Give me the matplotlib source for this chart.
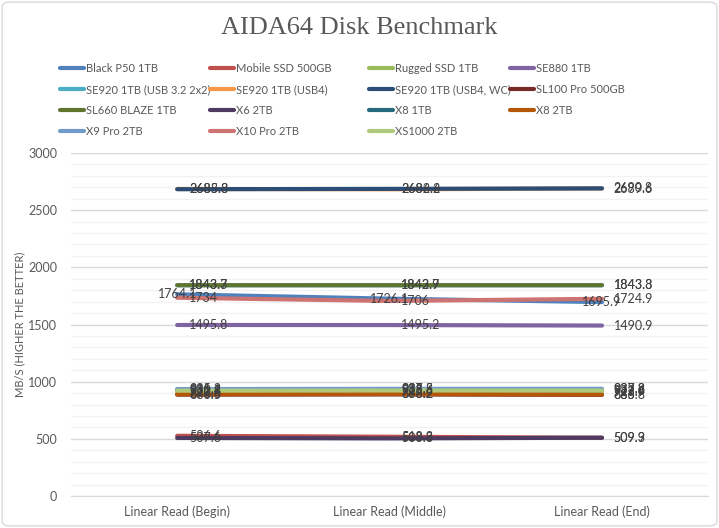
import matplotlib.pyplot as plt
from matplotlib import font_manager
from matplotlib.patches import FancyBboxPatch
from matplotlib.ticker import MultipleLocator

categories = ["Linear Read (Begin)", "Linear Read (Middle)", "Linear Read (End)"]

series_names = [
    "Black P50 1TB", "Mobile SSD 500GB", "Rugged SSD 1TB", "SE880 1TB",
    "SE920 1TB (USB 3.2 2x2)", "SE920 1TB (USB4)", "SE920 1TB (USB4, WC)", "SL100 Pro 500GB",
    "SL660 BLAZE 1TB", "X6 2TB", "X8 1TB", "X8 2TB",
    "X9 Pro 2TB", "X10 Pro 2TB", "XS1000 2TB",
]

black_p50 = [1764.1, 1726.1, 1695.9]
mobile_ssd = [526.6, 518.3, 509.3]
rugged_ssd = [912.8, 915.6, 913.9]
se880 = [1495.8, 1495.2, 1490.9]
se920_2x2 = [1843.3, 1842.7, 1843.3]
se920_usb4 = [2685.8, 2682.6, 2689.6]
se920_wc = [2683.3, 2686.2, 2690.8]
sl100_pro = [886.5, 888.2, 885.0]
sl660 = [1843.7, 1843.9, 1843.8]
x6 = [507.6, 503.8, 509.9]
x8_1tb = [930.1, 935.3, 933.2]
x8_2tb = [890.6, 893.2, 886.8]
x9_pro = [935.2, 937.5, 937.8]
x10_pro = [1734.0, 1706.0, 1724.9]
xs1000 = [921.4, 923.0, 922.6]

values = [
    black_p50, mobile_ssd, rugged_ssd, se880,
    se920_2x2, se920_usb4, se920_wc, sl100_pro,
    sl660, x6, x8_1tb, x8_2tb,
    x9_pro, x10_pro, xs1000,
]

colors = [
    "#4F81BD", "#C0504D", "#9BBB59", "#8064A2",
    "#4BACC6", "#F79646", "#2C4D75", "#772C2A",
    "#5F7530", "#4D3B62", "#276A7C", "#B65708",
    "#729ACA", "#CD7371", "#AFC97A",
]

# labels of this series sit centred on the point, the rest to the right
centered_labels = {"Black P50 1TB"}

TXT = "#595959"
FONT = "Lato"


def first_font(names):
    for n in names:
        try:
            font_manager.findfont(n, fallback_to_default=False)
            return n
        except ValueError:
            continue
    return names[-1]


# narrow face for the legend so the columns don't run into each other
LEG_FONT = first_font(["Liberation Sans Narrow", "Lato"])
LEG_SIZE = 9 if LEG_FONT != "Lato" else 8

fig = plt.figure(figsize=(7.19, 5.28), dpi=100)
ax = fig.add_axes([0.0987, 0.0606, 0.8863, 0.6496])

x = list(range(len(categories)))
handles = []
for name, vals, col in zip(series_names, values, colors):
    (ln,) = ax.plot(x, vals, color=col, lw=3.0, solid_capstyle="round", label=name)
    handles.append(ln)
    for xi, v in zip(x, vals):
        label = f"{v:g}"
        if name in centered_labels:
            ax.annotate(label, (xi, v), xytext=(0, 0), textcoords="offset points",
                        ha="center", va="center", fontsize=9, color="#404040", family=FONT)
        else:
            ax.annotate(label, (xi, v), xytext=(8.5, 0), textcoords="offset points",
                        ha="left", va="center", fontsize=9, color="#404040", family=FONT)

ax.set_xlim(-0.5, 2.5)
ax.set_ylim(0, 3000)
ax.yaxis.set_major_locator(MultipleLocator(500))
ax.yaxis.set_minor_locator(MultipleLocator(100))
ax.grid(which="major", axis="y", color="#D9D9D9", lw=1.0)
ax.grid(which="minor", axis="y", color="#F2F2F2", lw=1.0)
ax.set_axisbelow(True)
for s in ["top", "right", "left"]:
    ax.spines[s].set_visible(False)
ax.spines["bottom"].set_color("#D9D9D9")
ax.tick_params(which="both", length=0)
ax.tick_params(axis="y", pad=10)
ax.tick_params(axis="x", pad=7)
ax.set_xticks(x)
ax.set_xticklabels(categories)
for t in ax.get_xticklabels() + ax.get_yticklabels():
    t.set_family(FONT)
    t.set_fontsize(9)
    t.set_color(TXT)
ax.set_ylabel("MB/S (HIGHER THE BETTER)", family=FONT, fontsize=8, color=TXT, labelpad=2)

fig.text(0.5, 0.947, "AIDA64 Disk Benchmark", ha="center", va="center",
         family="Liberation Serif", fontsize=19, color=TXT)

# legend: one single-column legend per column, placed where the reference has them
col_x = [60, 210, 369, 510]
for c, px in enumerate(col_x):
    idx = list(range(c, len(series_names), 4))
    leg = fig.legend([handles[i] for i in idx], [series_names[i] for i in idx],
                     loc="upper left", bbox_to_anchor=(px / 719, 0.88),
                     frameon=False, borderpad=0, borderaxespad=0,
                     handlelength=2.2, handletextpad=0.15, labelspacing=0.88,
                     prop={"family": LEG_FONT, "size": LEG_SIZE})
    for t in leg.get_texts():
        t.set_color(TXT)

fig.patches.append(FancyBboxPatch((0.003, 0.004), 0.994, 0.992,
                                  boxstyle="round,pad=0,rounding_size=0.01",
                                  transform=fig.transFigure, fill=False,
                                  edgecolor="#D9D9D9", lw=1.0))

fig.savefig("out.png", dpi=100)
